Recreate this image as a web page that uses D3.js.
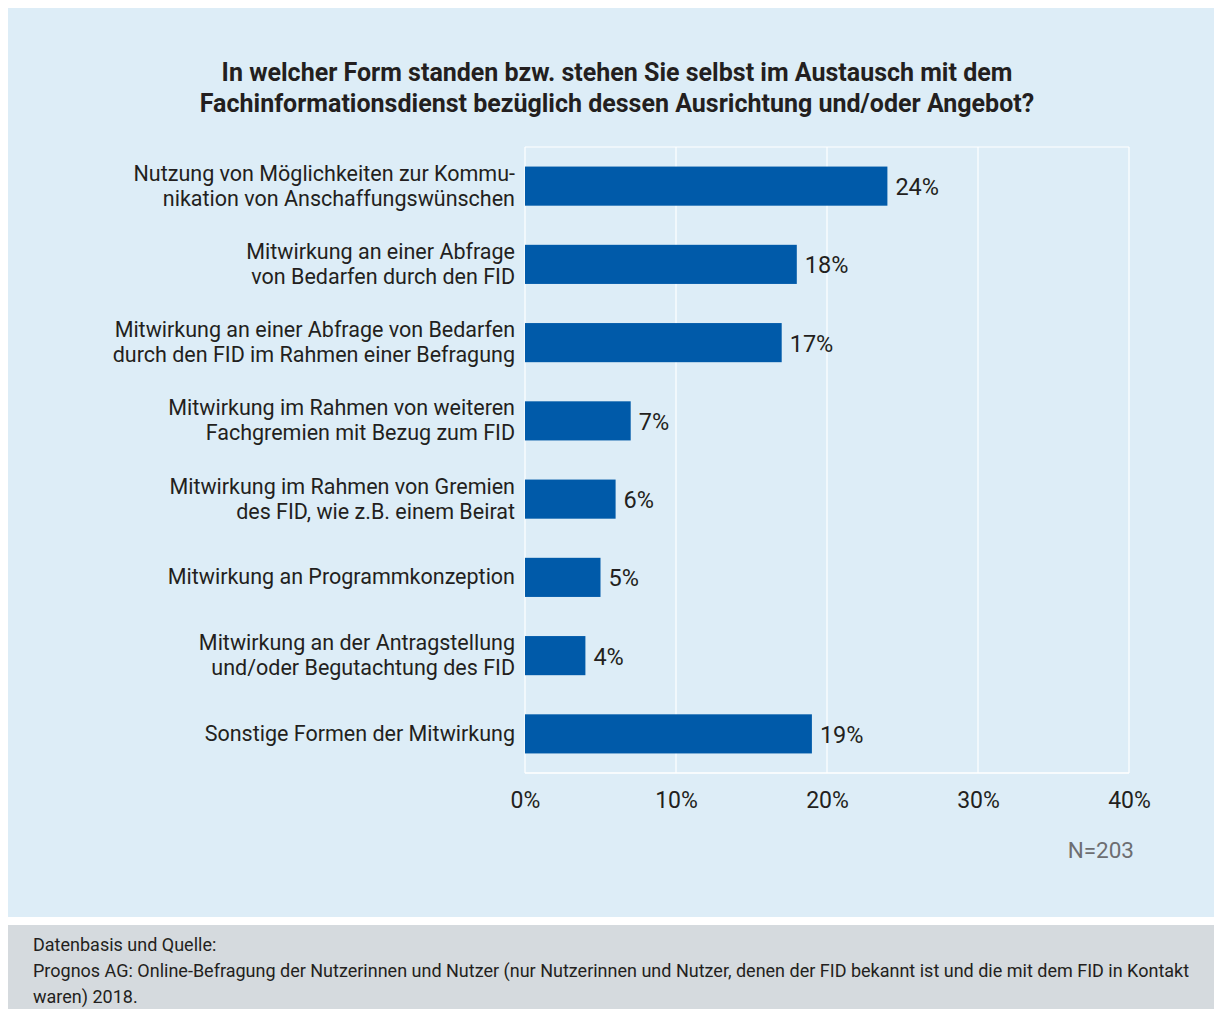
<!DOCTYPE html>
<html>
<head>
<meta charset="utf-8">
<script src="https://cdn.jsdelivr.net/npm/d3@7"></script>
<style>
  html, body { margin: 0; padding: 0; background: #ffffff; }
  svg { display: block; }
  text { font-family: "Liberation Sans Narrow", "Roboto", "Open Sans", sans-serif; }
</style>
</head>
<body>
<svg id="chart" width="1214" height="1009"></svg>
<script>
// Survey answers (share of respondents, in percent)
const categories = [
  ["Nutzung von Möglichkeiten zur Kommu-", "nikation von Anschaffungswünschen"],
  ["Mitwirkung an einer Abfrage", "von Bedarfen durch den FID"],
  ["Mitwirkung an einer Abfrage von Bedarfen", "durch den FID im Rahmen einer Befragung"],
  ["Mitwirkung im Rahmen von weiteren", "Fachgremien mit Bezug zum FID"],
  ["Mitwirkung im Rahmen von Gremien", "des FID, wie z.B. einem Beirat"],
  ["Mitwirkung an Programmkonzeption"],
  ["Mitwirkung an der Antragstellung", "und/oder Begutachtung des FID"],
  ["Sonstige Formen der Mitwirkung"]
];
const values = [24, 18, 17, 7, 6, 5, 4, 19];
const tickValues = [0, 10, 20, 30, 40];
const titleLines = [
  "In welcher Form standen bzw. stehen Sie selbst im Austausch mit dem",
  "Fachinformationsdienst bezüglich dessen Ausrichtung und/oder Angebot?"
];
const sampleNote = "N=203";
const sourceLines = [
  "Datenbasis und Quelle:",
  "Prognos AG: Online-Befragung der Nutzerinnen und Nutzer (nur Nutzerinnen und Nutzer, denen der FID bekannt ist und die mit dem FID in Kontakt",
  "waren) 2018."
];

const svg = d3.select("#chart");

// panels
svg.append("rect").attr("x", 8).attr("y", 8).attr("width", 1206).attr("height", 909).attr("fill", "#ddedf7");
svg.append("rect").attr("x", 8).attr("y", 925).attr("width", 1206).attr("height", 84).attr("fill", "#d5dade");

// title
svg.append("g").selectAll("text").data(titleLines).join("text")
  .attr("x", 617).attr("y", (d, i) => 81 + i * 31)
  .attr("text-anchor", "middle")
  .attr("font-size", 25).attr("font-weight", "bold").attr("fill", "#231f20")
  .text(d => d);

const plot = { left: 525, right: 1129, top: 147, bottom: 773 };

const x = d3.scaleLinear().domain([0, 40]).range([plot.left, plot.right]);
const y = d3.scaleBand().domain(d3.range(categories.length))
  .range([plot.top, plot.bottom]).paddingInner(0.5).paddingOuter(0.25);

// frame + vertical gridlines
const grid = svg.append("g");
grid.selectAll("line").data(tickValues).join("line")
  .attr("x1", d => x(d)).attr("x2", d => x(d))
  .attr("y1", plot.top).attr("y2", plot.bottom)
  .attr("stroke", "#ffffff").attr("stroke-width", 1.2);
grid.append("line").attr("x1", plot.left).attr("x2", plot.right)
  .attr("y1", plot.top).attr("y2", plot.top).attr("stroke", "#ffffff").attr("stroke-width", 1.2);
grid.append("line").attr("x1", plot.left).attr("x2", plot.right)
  .attr("y1", plot.bottom).attr("y2", plot.bottom).attr("stroke", "#ffffff").attr("stroke-width", 1.5);

// bars
svg.append("g").selectAll("rect").data(values).join("rect")
  .attr("x", x(0)).attr("y", (d, i) => y(i))
  .attr("width", d => x(d) - x(0)).attr("height", y.bandwidth())
  .attr("fill", "#005aa9");

// value labels
svg.append("g").selectAll("text").data(values).join("text")
  .attr("x", d => x(d) + 8).attr("y", (d, i) => y(i) + y.bandwidth() / 2 + 9)
  .attr("font-size", 23.5).attr("fill", "#231f20")
  .text(d => d + "%");

// category labels
const cat = svg.append("g").selectAll("text").data(categories).join("text")
  .attr("text-anchor", "end").attr("font-size", 21.5).attr("fill", "#231f20")
  .attr("y", (d, i) => y(i) + y.bandwidth() / 2 + 7 - (d.length - 1) * 12.5);
cat.selectAll("tspan").data(d => d).join("tspan")
  .attr("x", 515).attr("dy", (d, i) => i === 0 ? 0 : 25)
  .text(d => d);

// x axis
const xAxis = d3.axisBottom(x).tickValues(tickValues).tickSize(0).tickPadding(0)
  .tickFormat(d => d + "%");
const ax = svg.append("g").attr("transform", `translate(0,${plot.bottom})`).call(xAxis);
ax.select(".domain").remove();
ax.selectAll("text").attr("font-size", 23).attr("fill", "#231f20")
  .attr("dy", 0).attr("y", 35)
  .attr("font-family", "'Liberation Sans Narrow', Roboto, sans-serif");

// sample size
svg.append("text").attr("x", 1134).attr("y", 858).attr("text-anchor", "end")
  .attr("font-size", 22.5).attr("fill", "#6d6e71").text(sampleNote);

// source
svg.append("g").selectAll("text").data(sourceLines).join("text")
  .attr("x", 33).attr("y", (d, i) => 951 + i * 26)
  .attr("font-size", 18).attr("fill", "#231f20")
  .text(d => d);
</script>
</body>
</html>
